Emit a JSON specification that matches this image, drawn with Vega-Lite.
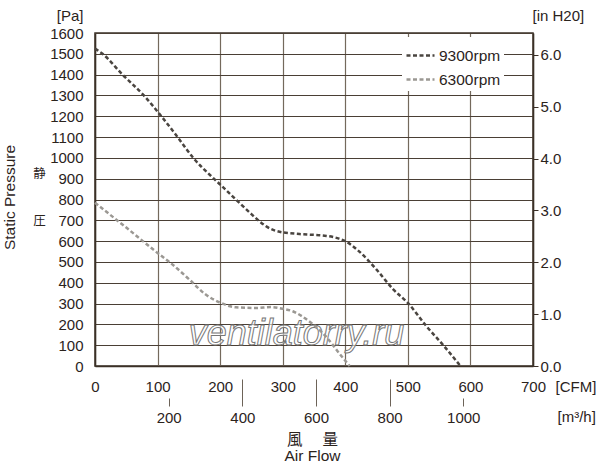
{
  "$schema": "https://vega.github.io/schema/vega-lite/v6.json",
  "width": 438,
  "height": 333,
  "autosize": "none",
  "padding": {"left": 95, "top": 33, "right": 67, "bottom": 102},
  "background": "white",
  "datasets": {
    "curves": [
      {"rpm": "9300rpm", "cfm": 0, "pa": 1525},
      {"rpm": "9300rpm", "cfm": 12, "pa": 1500},
      {"rpm": "9300rpm", "cfm": 44, "pa": 1400},
      {"rpm": "9300rpm", "cfm": 78, "pa": 1300},
      {"rpm": "9300rpm", "cfm": 106, "pa": 1200},
      {"rpm": "9300rpm", "cfm": 132, "pa": 1100},
      {"rpm": "9300rpm", "cfm": 157, "pa": 1000},
      {"rpm": "9300rpm", "cfm": 190, "pa": 900},
      {"rpm": "9300rpm", "cfm": 200, "pa": 872},
      {"rpm": "9300rpm", "cfm": 225, "pa": 800},
      {"rpm": "9300rpm", "cfm": 250, "pa": 730},
      {"rpm": "9300rpm", "cfm": 265, "pa": 690},
      {"rpm": "9300rpm", "cfm": 280, "pa": 660},
      {"rpm": "9300rpm", "cfm": 295, "pa": 645},
      {"rpm": "9300rpm", "cfm": 327, "pa": 634},
      {"rpm": "9300rpm", "cfm": 370, "pa": 625},
      {"rpm": "9300rpm", "cfm": 390, "pa": 612},
      {"rpm": "9300rpm", "cfm": 400, "pa": 600},
      {"rpm": "9300rpm", "cfm": 422, "pa": 551},
      {"rpm": "9300rpm", "cfm": 450, "pa": 463},
      {"rpm": "9300rpm", "cfm": 477, "pa": 367},
      {"rpm": "9300rpm", "cfm": 500, "pa": 303},
      {"rpm": "9300rpm", "cfm": 530, "pa": 190},
      {"rpm": "9300rpm", "cfm": 556, "pa": 102},
      {"rpm": "9300rpm", "cfm": 584, "pa": 0},
      {"rpm": "6300rpm", "cfm": 0, "pa": 784},
      {"rpm": "6300rpm", "cfm": 50, "pa": 665},
      {"rpm": "6300rpm", "cfm": 100, "pa": 543},
      {"rpm": "6300rpm", "cfm": 124, "pa": 487},
      {"rpm": "6300rpm", "cfm": 151, "pa": 415},
      {"rpm": "6300rpm", "cfm": 177, "pa": 343},
      {"rpm": "6300rpm", "cfm": 199, "pa": 306},
      {"rpm": "6300rpm", "cfm": 225, "pa": 282},
      {"rpm": "6300rpm", "cfm": 257, "pa": 279},
      {"rpm": "6300rpm", "cfm": 282, "pa": 283},
      {"rpm": "6300rpm", "cfm": 300, "pa": 275},
      {"rpm": "6300rpm", "cfm": 316, "pa": 263},
      {"rpm": "6300rpm", "cfm": 342, "pa": 215},
      {"rpm": "6300rpm", "cfm": 369, "pa": 142},
      {"rpm": "6300rpm", "cfm": 390, "pa": 62},
      {"rpm": "6300rpm", "cfm": 407, "pa": 0}
    ],
    "guide": [
      {"m3h": 0, "inh2o": 0, "pa": 0},
      {"m3h": 1189.3, "inh2o": 6.4234, "pa": 1600}
    ]
  },
  "layer": [
    {
      "data": {"values": [{"site": "ventilatorry.ru"}]},
      "mark": {
        "type": "text",
        "font": "Liberation Sans",
        "fontStyle": "italic",
        "fontSize": 36,
        "fill": "white",
        "fillOpacity": 0.6,
        "stroke": "#777777",
        "strokeWidth": 1,
        "align": "center",
        "baseline": "alphabetic"
      },
      "encoding": {
        "text": {"field": "site"},
        "x": {"datum": 322, "type": "quantitative", "scale": {"domain": [0, 700], "nice": false}, "axis": null},
        "y": {
          "datum": 100,
          "type": "quantitative",
          "scale": {"domain": [0, 1600], "nice": false},
          "axis": {
            "orient": "left",
            "labels": false,
            "ticks": false,
            "domain": false,
            "grid": false,
            "title": ["静", "圧"],
            "titleFont": "Noto Sans CJK JP",
            "titleFontSize": 12.5,
            "titleLineHeight": 47,
            "titleAngle": 0,
            "titleAlign": "center",
            "titleBaseline": "top",
            "titleX": -56,
            "titleY": 134
          }
        }
      }
    },
    {
      "data": {"name": "curves"},
      "mark": {
        "type": "line",
        "interpolate": "monotone",
        "strokeWidth": 2.5,
        "strokeDash": [4, 2.5]
      },
      "encoding": {
        "x": {
          "field": "cfm",
          "type": "quantitative",
          "scale": {"domain": [0, 700], "nice": false},
          "axis": {
            "orient": "bottom",
            "values": [0, 100, 200, 300, 400, 500, 600, 700],
            "format": "d",
            "grid": true,
            "gridColor": "#74695c",
            "gridWidth": 1.2,
            "ticks": false,
            "tickSize": 0,
            "labelPadding": 20,
            "labelBaseline": "middle",
            "title": "[CFM]",
            "titleAngle": 0,
            "titleAlign": "left",
            "titleBaseline": "middle",
            "titleX": 460,
            "titleY": 20
          }
        },
        "y": {
          "field": "pa",
          "type": "quantitative",
          "scale": {"domain": [0, 1600], "nice": false},
          "axis": {
            "orient": "left",
            "values": [0, 100, 200, 300, 400, 500, 600, 700, 800, 900, 1000, 1100, 1200, 1300, 1400, 1500, 1600],
            "format": "d",
            "grid": true,
            "gridColor": "#4a3f35",
            "gridWidth": 1,
            "ticks": false,
            "tickSize": 0,
            "labelPadding": 12,
            "labelBaseline": "middle",
            "title": "[Pa]",
            "titleAngle": 0,
            "titleAlign": "right",
            "titleBaseline": "middle",
            "titleX": -12,
            "titleY": -18
          }
        },
        "color": {
          "field": "rpm",
          "type": "nominal",
          "scale": {"domain": ["9300rpm", "6300rpm"], "range": ["#4a4540", "#9b9893"]},
          "legend": {
            "title": null,
            "orient": "none",
            "legendX": 307,
            "legendY": 4,
            "fillColor": "white",
            "padding": 3,
            "symbolType": "stroke",
            "symbolSize": 784,
            "symbolStrokeWidth": 2.5,
            "symbolDash": [4, 2.5],
            "rowPadding": 0,
            "labelOffset": 3,
            "labelFont": "Liberation Sans",
            "labelFontSize": 15.5,
            "labelColor": "#2b231c"
          }
        }
      }
    },
    {
      "data": {"name": "guide"},
      "mark": {"type": "point", "opacity": 0},
      "encoding": {
        "x": {
          "field": "m3h",
          "type": "quantitative",
          "scale": {"domain": [0, 1189.3], "nice": false},
          "axis": {
            "orient": "bottom",
            "offset": 32,
            "values": [200, 400, 600, 800, 1000],
            "format": "d",
            "domain": false,
            "grid": false,
            "tickSize": 8,
            "tickColor": "#6d6358",
            "tickOpacity": {"condition": {"test": "datum.value == 200 || datum.value == 1000", "value": 1}, "value": 0},
            "labelPadding": 11,
            "labelBaseline": "middle",
            "title": "[m³/h]",
            "titleAngle": 0,
            "titleAlign": "left",
            "titleBaseline": "middle",
            "titleX": 462,
            "titleY": 18
          }
        },
        "y": {
          "field": "inh2o",
          "type": "quantitative",
          "scale": {"domain": [0, 6.4234], "nice": false},
          "axis": {
            "orient": "right",
            "values": [0, 1, 2, 3, 4, 5, 6],
            "format": ".1f",
            "grid": false,
            "tickSize": 5,
            "labelPadding": 2,
            "labelBaseline": "middle",
            "title": "[in H20]",
            "titleAngle": 0,
            "titleAlign": "left",
            "titleBaseline": "middle",
            "titleX": -1,
            "titleY": -18
          }
        }
      }
    },
    {
      "data": {"name": "guide"},
      "mark": {"type": "point", "opacity": 0},
      "encoding": {
        "x": {
          "field": "m3h",
          "type": "quantitative",
          "scale": {"domain": [0, 1189.3], "nice": false},
          "axis": {
            "orient": "bottom",
            "offset": 13,
            "values": [400, 600, 800],
            "domain": false,
            "grid": false,
            "labels": false,
            "tickSize": 27,
            "tickColor": "#6d6358",
            "title": ["風　 量", "Air Flow"],
            "titleFont": "'Liberation Sans', 'Noto Sans CJK JP', sans-serif",
            "titleFontSize": 15.5,
            "titleLineHeight": 16,
            "titleAngle": 0,
            "titleAlign": "center",
            "titleBaseline": "top",
            "titleX": 217,
            "titleY": 53
          }
        },
        "y": {
          "field": "pa",
          "type": "quantitative",
          "scale": {"domain": [0, 1600], "nice": false},
          "axis": {
            "orient": "left",
            "labels": false,
            "ticks": false,
            "domain": false,
            "grid": false,
            "title": "Static Pressure",
            "titleFontSize": 15.5,
            "titleAngle": 270,
            "titleAlign": "center",
            "titleBaseline": "middle",
            "titleX": -86,
            "titleY": 164
          }
        }
      }
    }
  ],
  "resolve": {"scale": {"x": "independent", "y": "independent"}},
  "config": {
    "font": "Liberation Sans",
    "view": {"stroke": "#3b3027", "strokeWidth": 1.5},
    "axis": {
      "labelFont": "Liberation Sans",
      "labelFontSize": 15,
      "labelColor": "#2b231c",
      "labelFlush": false,
      "labelOverlap": false,
      "titleFont": "Liberation Sans",
      "titleFontSize": 15,
      "titleFontWeight": "normal",
      "titleColor": "#2b231c",
      "domainColor": "#3b3027",
      "domainWidth": 1.5,
      "tickColor": "#3b3027"
    }
  }
}
